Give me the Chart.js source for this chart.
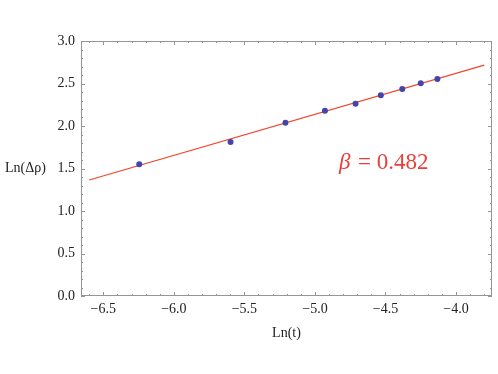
<!DOCTYPE html>
<html>
<head>
<meta charset="utf-8">
<script src="https://cdn.jsdelivr.net/npm/chart.js@4/dist/chart.umd.min.js"></script>
<style>
  html, body { margin: 0; padding: 0; background: #fff; }
  #holder { width: 498px; height: 374px; }
</style>
</head>
<body>
<div id="holder"><canvas id="chart-area-1" width="498" height="374"></canvas></div>
<script>
// measured points, Ln(t) vs Ln(delta rho)
var lnT   = [-6.245, -5.598, -5.209, -4.929, -4.712, -4.533, -4.381, -4.250, -4.132];
var lnRho = [1.549, 1.812, 2.039, 2.180, 2.262, 2.361, 2.435, 2.502, 2.553];

// fitted line end points
var fitX = [-6.60, -3.80];
var fitY = [1.365, 2.716];

var xTicks = [-6.5, -6.0, -5.5, -5.0, -4.5, -4.0];
var yTicks = [0.0, 0.5, 1.0, 1.5, 2.0, 2.5, 3.0];

var slopeLabel = '0.482';

var SERIF = '"Liberation Serif", "DejaVu Serif", serif';

function minus(v) {
    return v.toFixed(1).replace('-', '\u2212');
}

/******************************************************************************
* Frame with inward ticks on all four sides, plus axis titles and the
* beta annotation.
******************************************************************************/
var framePlugin = {
    id: 'frame',
    afterDraw: function(chart) {
        var ctx = chart.ctx;
        var a = chart.chartArea;
        var xs = chart.scales.x;
        var ys = chart.scales.y;

        ctx.save();
        ctx.strokeStyle = '#959595';
        ctx.lineWidth = 1;
        ctx.strokeRect(a.left + 0.5, a.top + 0.5, a.right - a.left - 1, a.bottom - a.top - 1);

        ctx.beginPath();
        // x ticks, major every 0.5 and minor every 0.1
        for (var i = -70; i <= -35; i++) {
            var v = i / 10;
            if (v < xs.min || v > xs.max) continue;
            var len = (i % 5 === 0) ? 4 : 2;
            var px = Math.round(xs.getPixelForValue(v)) + 0.5;
            ctx.moveTo(px, a.bottom);
            ctx.lineTo(px, a.bottom - len);
            ctx.moveTo(px, a.top);
            ctx.lineTo(px, a.top + len);
        }
        for (var j = 0; j <= 30; j++) {
            var w = j / 10;
            var len2 = (j % 5 === 0) ? 4 : 2;
            var py = Math.round(ys.getPixelForValue(w)) + 0.5;
            ctx.moveTo(a.left, py);
            ctx.lineTo(a.left + len2, py);
            ctx.moveTo(a.right, py);
            ctx.lineTo(a.right - len2, py);
        }
        ctx.stroke();

        // axis titles
        ctx.fillStyle = '#222';
        ctx.font = '14px ' + SERIF;
        ctx.textAlign = 'center';
        ctx.textBaseline = 'middle';
        ctx.fillText('Ln(t)', (a.left + a.right) / 2, a.bottom + 37);
        ctx.textAlign = 'left';
        ctx.fillText('Ln(\u0394\u03C1)', 5, (a.top + a.bottom) / 2);

        // beta = slope
        var bx = xs.getPixelForValue(-4.83);
        var by = ys.getPixelForValue(1.5);
        ctx.fillStyle = '#e8403a';
        ctx.textAlign = 'left';
        ctx.textBaseline = 'alphabetic';
        ctx.font = 'italic 23px ' + SERIF;
        ctx.fillText('\u03B2', bx, by);
        var bw = ctx.measureText('\u03B2').width;
        ctx.font = '23px ' + SERIF;
        ctx.fillText(' = ' + slopeLabel, bx + bw + 2, by);
        ctx.restore();
    }
};

var points = lnT.map(function(x, k) { return { x: x, y: lnRho[k] }; });
var fitLine = fitX.map(function(x, k) { return { x: x, y: fitY[k] }; });

var configOne = {
    type: 'scatter',
    data: {
        datasets: [{
            type: 'line',
            data: fitLine,
            borderColor: '#f2452a',
            borderWidth: 1.2,
            pointRadius: 0,
            fill: false,
            order: 2
        }, {
            data: points,
            backgroundColor: '#4444aa',
            borderColor: '#4444aa',
            pointRadius: 3,
            borderWidth: 0,
            order: 1
        }]
    },
    options: {
        responsive: false,
        animation: false,
        layout: { padding: { left: 0, top: 41, right: 6, bottom: 0 } },
        plugins: {
            legend: { display: false },
            tooltip: { enabled: false }
        },
        scales: {
            x: {
                type: 'linear',
                min: -6.658,
                max: -3.745,
                grid: { display: false, drawTicks: false },
                border: { display: false },
                afterBuildTicks: function(scale) {
                    scale.ticks = xTicks.map(function(v) { return { value: v }; });
                },
                afterFit: function(scale) { scale.height = 78; },
                ticks: {
                    color: '#222',
                    padding: 5,
                    maxRotation: 0,
                    autoSkip: false,
                    font: { family: SERIF, size: 14 },
                    callback: function(v) { return minus(v); }
                }
            },
            y: {
                type: 'linear',
                min: 0,
                max: 3,
                grid: { display: false, drawTicks: false },
                border: { display: false },
                afterBuildTicks: function(scale) {
                    scale.ticks = yTicks.map(function(v) { return { value: v }; });
                },
                afterFit: function(scale) { scale.width = 81; },
                ticks: {
                    color: '#222',
                    padding: 6,
                    autoSkip: false,
                    font: { family: SERIF, size: 14 },
                    callback: function(v) { return minus(v); }
                }
            }
        }
    },
    plugins: [framePlugin]
};

var ctx = document.getElementById('chart-area-1').getContext('2d');
window.myScatter = new Chart(ctx, configOne);
</script>
</body>
</html>
